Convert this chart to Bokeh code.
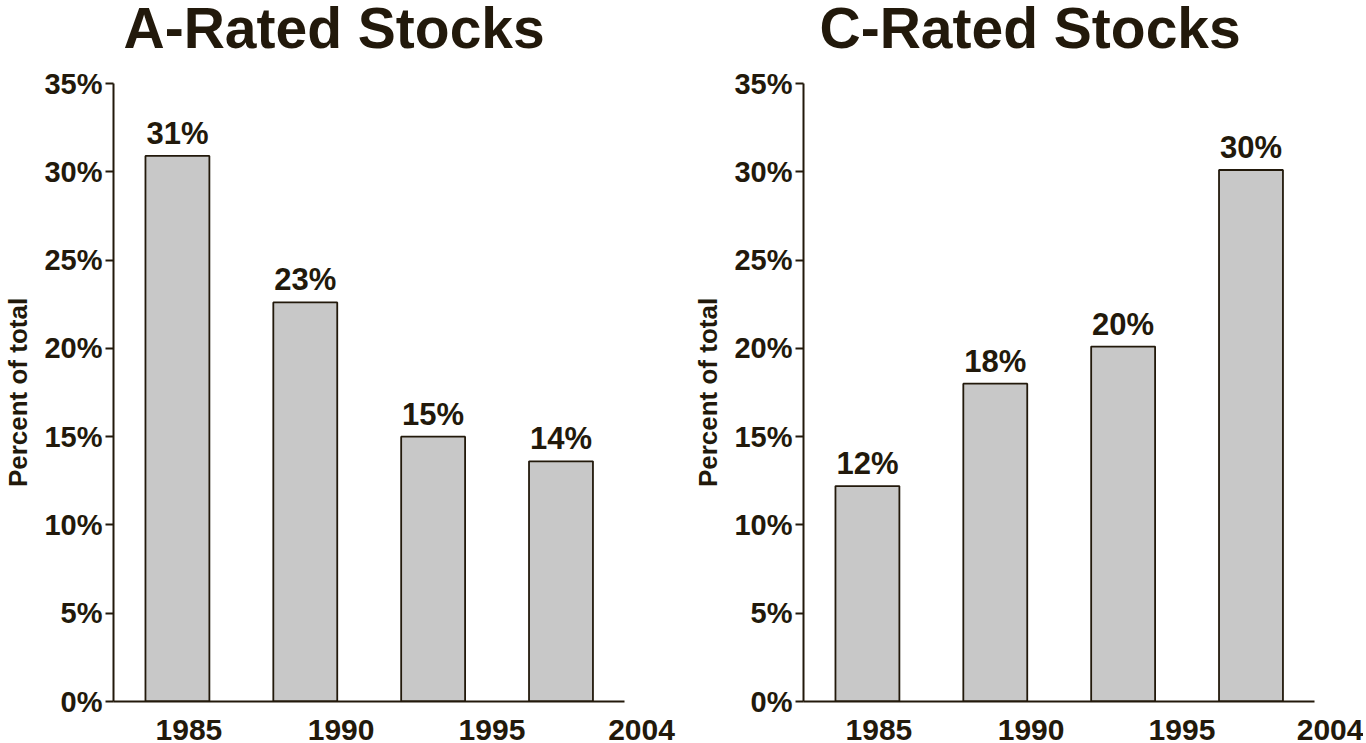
from bokeh.plotting import figure
from bokeh.layouts import row
from bokeh.models import Range1d, FixedTicker, LinearAxis, PrintfTickFormatter, Title, ColumnDataSource
from bokeh.core.properties import value
from bokeh.embed import file_html
from bokeh.resources import INLINE

# ---- data ----
years = ["1985", "1990", "1995", "2004"]
a_values = [30.9, 22.6, 15.0, 13.6]
c_values = [12.2, 18.0, 20.1, 30.1]
a_labels = ["31%", "23%", "15%", "14%"]
c_labels = ["12%", "18%", "20%", "30%"]
y_ticks = [0, 5, 10, 15, 20, 25, 30, 35]

# ---- layout / style ----
year_label_pos = [0.59, 1.78, 2.96, 4.13]
X_END = 4.38
DARK = "#22190b"
BAR = "#c8c8c8"
FONT = "Liberation Sans"


def make_panel(title, title_offset, vals, labels, right_border):
    p = figure(frame_width=560, frame_height=618,
               x_range=Range1d(0, X_END), y_range=Range1d(0, 35),
               output_backend="svg", toolbar_location=None,
               min_border_left=107, min_border_top=83,
               min_border_bottom=60, min_border_right=right_border)
    p.outline_line_color = None
    p.background_fill_color = "white"
    p.border_fill_color = "white"
    p.xgrid.visible = False
    p.ygrid.visible = False

    # spacer between frame and title, then the title itself
    p.add_layout(Title(text=" ", text_font_size="1px", standoff=24), "above")
    p.add_layout(Title(text=title, align="left", offset=title_offset,
                       vertical_align="top", standoff=-10,
                       text_font_size="57px", text_font=FONT,
                       text_font_style="bold", text_color=DARK), "above")

    xs = [i + 0.5 for i in range(len(years))]
    src = ColumnDataSource(dict(x=xs, top=vals, label=labels))
    p.vbar(x="x", top="top", bottom=0, width=0.5, source=src,
           fill_color=BAR, line_color=DARK, line_width=1.8)
    p.text(x="x", y="top", text="label", source=src,
           text_align="center", text_baseline="bottom", y_offset=-5,
           text_font=value(FONT), text_font_style="bold",
           text_font_size="31px", text_color=DARK)

    # y axis
    ya = p.yaxis[0]
    ya.ticker = FixedTicker(ticks=y_ticks)
    ya.formatter = PrintfTickFormatter(format="%d%%")
    ya.axis_line_color = DARK
    ya.axis_line_width = 2
    ya.major_tick_line_color = DARK
    ya.major_tick_line_width = 2
    ya.major_tick_out = 8
    ya.major_tick_in = 0
    ya.minor_tick_line_color = None
    ya.major_label_standoff = 3
    ya.major_label_text_font = FONT
    ya.major_label_text_font_style = "bold"
    ya.major_label_text_font_size = "29px"
    ya.major_label_text_color = DARK
    ya.axis_label = "Percent of total"
    ya.axis_label_text_font = FONT
    ya.axis_label_text_font_style = "bold"
    ya.axis_label_text_font_size = "26px"
    ya.axis_label_text_color = DARK
    ya.axis_label_standoff = 8

    # x baseline (line only, limited to bar area)
    xa = p.xaxis[0]
    xa.bounds = (0, len(years))
    xa.ticker = FixedTicker(ticks=[])
    xa.axis_line_color = DARK
    xa.axis_line_width = 2
    xa.major_tick_line_color = None
    xa.minor_tick_line_color = None
    xa.major_label_text_font_size = "0px"

    # year labels
    yl = LinearAxis(ticker=FixedTicker(ticks=year_label_pos),
                    major_label_overrides={pos: yr for pos, yr in zip(year_label_pos, years)})
    yl.axis_line_color = None
    yl.major_tick_line_color = None
    yl.minor_tick_line_color = None
    yl.major_label_standoff = 12
    yl.major_label_text_font = FONT
    yl.major_label_text_font_style = "bold"
    yl.major_label_text_font_size = "30px"
    yl.major_label_text_color = DARK
    p.add_layout(yl, "below")
    return p


p1 = make_panel("A-Rated Stocks", 10, a_values, a_labels, 17)
p2 = make_panel("C-Rated Stocks", 16, c_values, c_labels, 0)
layout = row(p1, p2, spacing=0)

open("out.html", "w").write(file_html(layout, INLINE))
